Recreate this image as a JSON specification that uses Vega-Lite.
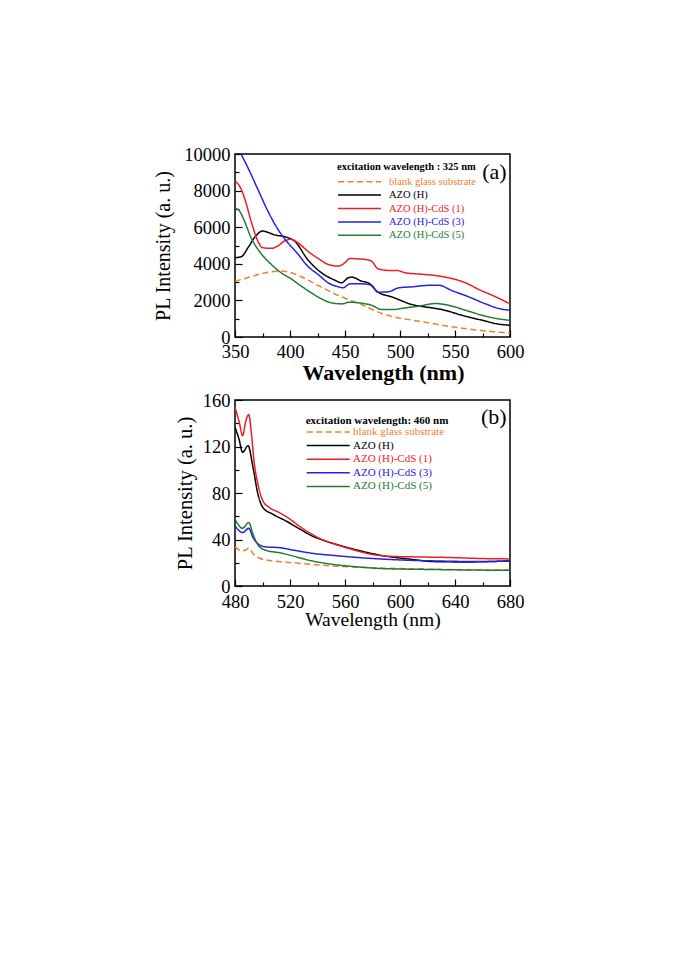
{
  "$schema": "https://vega.github.io/schema/vega-lite/v6.json",
  "background": "white",
  "padding": {"left": 153, "top": 144, "right": 0, "bottom": 0},
  "spacing": 5,
  "config": {
    "view": {"stroke": "black", "strokeWidth": 1.5},
    "font": "Liberation Serif",
    "axis": {
      "labelFont": "Liberation Serif", "titleFont": "Liberation Serif",
      "labelColor": "black", "titleColor": "black", "tickColor": "black",
      "domain": false, "grid": false, "labelFontSize": 18.5, "titleFontSize": 20,
      "titleFontWeight": "normal", "tickWidth": 1.2, "labelOverlap": false, "labelFlush": false
    },
    "legend": {
      "titleFont": "Liberation Serif", "labelFont": "Liberation Serif",
      "titleColor": "black", "titleFontWeight": "bold",
      "symbolType": "M-4.3,0H4.3", "symbolSize": 100, "symbolStrokeWidth": 1.5,
      "symbolOffset": 16.5, "padding": 0
    }
  },
  "datasets": {
    "a": [
      {"series": "blank glass substrate", "wl": 350, "val": 3050},
      {"series": "blank glass substrate", "wl": 361.6, "val": 3240},
      {"series": "blank glass substrate", "wl": 373.8, "val": 3455},
      {"series": "blank glass substrate", "wl": 383, "val": 3565},
      {"series": "blank glass substrate", "wl": 392, "val": 3600},
      {"series": "blank glass substrate", "wl": 401, "val": 3510},
      {"series": "blank glass substrate", "wl": 410.3, "val": 3290},
      {"series": "blank glass substrate", "wl": 419.4, "val": 3016},
      {"series": "blank glass substrate", "wl": 428.6, "val": 2724},
      {"series": "blank glass substrate", "wl": 440.7, "val": 2358},
      {"series": "blank glass substrate", "wl": 453, "val": 2048},
      {"series": "blank glass substrate", "wl": 465, "val": 1773},
      {"series": "blank glass substrate", "wl": 477, "val": 1444},
      {"series": "blank glass substrate", "wl": 489.5, "val": 1170},
      {"series": "blank glass substrate", "wl": 504.7, "val": 987},
      {"series": "blank glass substrate", "wl": 523, "val": 804},
      {"series": "blank glass substrate", "wl": 544, "val": 585},
      {"series": "blank glass substrate", "wl": 562.5, "val": 439},
      {"series": "blank glass substrate", "wl": 580.8, "val": 311},
      {"series": "blank glass substrate", "wl": 600, "val": 219},
      {"series": "AZO (H)", "wl": 350, "val": 4330},
      {"series": "AZO (H)", "wl": 356, "val": 4400},
      {"series": "AZO (H)", "wl": 362, "val": 4900},
      {"series": "AZO (H)", "wl": 368, "val": 5450},
      {"series": "AZO (H)", "wl": 375, "val": 5790},
      {"series": "AZO (H)", "wl": 386, "val": 5580},
      {"series": "AZO (H)", "wl": 398, "val": 5430},
      {"series": "AZO (H)", "wl": 404, "val": 5250},
      {"series": "AZO (H)", "wl": 416, "val": 4240},
      {"series": "AZO (H)", "wl": 428.6, "val": 3510},
      {"series": "AZO (H)", "wl": 440.7, "val": 3108},
      {"series": "AZO (H)", "wl": 446.8, "val": 2962},
      {"series": "AZO (H)", "wl": 453, "val": 3236},
      {"series": "AZO (H)", "wl": 456, "val": 3272},
      {"series": "AZO (H)", "wl": 465, "val": 3053},
      {"series": "AZO (H)", "wl": 471, "val": 2962},
      {"series": "AZO (H)", "wl": 480, "val": 2450},
      {"series": "AZO (H)", "wl": 492.5, "val": 2194},
      {"series": "AZO (H)", "wl": 498.6, "val": 2048},
      {"series": "AZO (H)", "wl": 510.8, "val": 1773},
      {"series": "AZO (H)", "wl": 523, "val": 1645},
      {"series": "AZO (H)", "wl": 538, "val": 1499},
      {"series": "AZO (H)", "wl": 559.5, "val": 1133},
      {"series": "AZO (H)", "wl": 574.7, "val": 914},
      {"series": "AZO (H)", "wl": 587, "val": 731},
      {"series": "AZO (H)", "wl": 600, "val": 640},
      {"series": "AZO (H)-CdS (1)", "wl": 350, "val": 8500},
      {"series": "AZO (H)-CdS (1)", "wl": 354, "val": 8263},
      {"series": "AZO (H)-CdS (1)", "wl": 358.5, "val": 7623},
      {"series": "AZO (H)-CdS (1)", "wl": 364.6, "val": 6344},
      {"series": "AZO (H)-CdS (1)", "wl": 370.7, "val": 5247},
      {"series": "AZO (H)-CdS (1)", "wl": 375, "val": 4881},
      {"series": "AZO (H)-CdS (1)", "wl": 383, "val": 4845},
      {"series": "AZO (H)-CdS (1)", "wl": 389, "val": 4973},
      {"series": "AZO (H)-CdS (1)", "wl": 395, "val": 5247},
      {"series": "AZO (H)-CdS (1)", "wl": 401, "val": 5338},
      {"series": "AZO (H)-CdS (1)", "wl": 407, "val": 5155},
      {"series": "AZO (H)-CdS (1)", "wl": 416, "val": 4698},
      {"series": "AZO (H)-CdS (1)", "wl": 425.5, "val": 4296},
      {"series": "AZO (H)-CdS (1)", "wl": 434.7, "val": 3967},
      {"series": "AZO (H)-CdS (1)", "wl": 443.8, "val": 3876},
      {"series": "AZO (H)-CdS (1)", "wl": 450, "val": 4058},
      {"series": "AZO (H)-CdS (1)", "wl": 454.4, "val": 4296},
      {"series": "AZO (H)-CdS (1)", "wl": 459, "val": 4278},
      {"series": "AZO (H)-CdS (1)", "wl": 468, "val": 4241},
      {"series": "AZO (H)-CdS (1)", "wl": 474, "val": 4150},
      {"series": "AZO (H)-CdS (1)", "wl": 480, "val": 3729},
      {"series": "AZO (H)-CdS (1)", "wl": 489.5, "val": 3638},
      {"series": "AZO (H)-CdS (1)", "wl": 497, "val": 3638},
      {"series": "AZO (H)-CdS (1)", "wl": 504.7, "val": 3510},
      {"series": "AZO (H)-CdS (1)", "wl": 513.8, "val": 3455},
      {"series": "AZO (H)-CdS (1)", "wl": 529, "val": 3382},
      {"series": "AZO (H)-CdS (1)", "wl": 544, "val": 3236},
      {"series": "AZO (H)-CdS (1)", "wl": 559.5, "val": 2962},
      {"series": "AZO (H)-CdS (1)", "wl": 571.7, "val": 2596},
      {"series": "AZO (H)-CdS (1)", "wl": 587, "val": 2194},
      {"series": "AZO (H)-CdS (1)", "wl": 600, "val": 1810},
      {"series": "AZO (H)-CdS (3)", "wl": 350, "val": 10650},
      {"series": "AZO (H)-CdS (3)", "wl": 355.5, "val": 10000},
      {"series": "AZO (H)-CdS (3)", "wl": 361.6, "val": 9269},
      {"series": "AZO (H)-CdS (3)", "wl": 370.7, "val": 8080},
      {"series": "AZO (H)-CdS (3)", "wl": 379.8, "val": 6892},
      {"series": "AZO (H)-CdS (3)", "wl": 389, "val": 5887},
      {"series": "AZO (H)-CdS (3)", "wl": 398, "val": 5155},
      {"series": "AZO (H)-CdS (3)", "wl": 407, "val": 4552},
      {"series": "AZO (H)-CdS (3)", "wl": 416, "val": 3876},
      {"series": "AZO (H)-CdS (3)", "wl": 425.5, "val": 3419},
      {"series": "AZO (H)-CdS (3)", "wl": 434.7, "val": 2962},
      {"series": "AZO (H)-CdS (3)", "wl": 443.8, "val": 2742},
      {"series": "AZO (H)-CdS (3)", "wl": 448.4, "val": 2687},
      {"series": "AZO (H)-CdS (3)", "wl": 454.4, "val": 2907},
      {"series": "AZO (H)-CdS (3)", "wl": 465, "val": 2907},
      {"series": "AZO (H)-CdS (3)", "wl": 474, "val": 2834},
      {"series": "AZO (H)-CdS (3)", "wl": 480, "val": 2450},
      {"series": "AZO (H)-CdS (3)", "wl": 489.5, "val": 2468},
      {"series": "AZO (H)-CdS (3)", "wl": 498.6, "val": 2687},
      {"series": "AZO (H)-CdS (3)", "wl": 510.8, "val": 2742},
      {"series": "AZO (H)-CdS (3)", "wl": 523, "val": 2815},
      {"series": "AZO (H)-CdS (3)", "wl": 535, "val": 2834},
      {"series": "AZO (H)-CdS (3)", "wl": 547, "val": 2541},
      {"series": "AZO (H)-CdS (3)", "wl": 562.5, "val": 2194},
      {"series": "AZO (H)-CdS (3)", "wl": 577.8, "val": 1810},
      {"series": "AZO (H)-CdS (3)", "wl": 590, "val": 1554},
      {"series": "AZO (H)-CdS (3)", "wl": 600, "val": 1463},
      {"series": "AZO (H)-CdS (5)", "wl": 350, "val": 7038},
      {"series": "AZO (H)-CdS (5)", "wl": 354, "val": 6892},
      {"series": "AZO (H)-CdS (5)", "wl": 358.5, "val": 6344},
      {"series": "AZO (H)-CdS (5)", "wl": 364.6, "val": 5430},
      {"series": "AZO (H)-CdS (5)", "wl": 373.8, "val": 4552},
      {"series": "AZO (H)-CdS (5)", "wl": 383, "val": 3967},
      {"series": "AZO (H)-CdS (5)", "wl": 392, "val": 3510},
      {"series": "AZO (H)-CdS (5)", "wl": 401, "val": 3181},
      {"series": "AZO (H)-CdS (5)", "wl": 410.3, "val": 2779},
      {"series": "AZO (H)-CdS (5)", "wl": 419.4, "val": 2413},
      {"series": "AZO (H)-CdS (5)", "wl": 428.6, "val": 2084},
      {"series": "AZO (H)-CdS (5)", "wl": 437.7, "val": 1865},
      {"series": "AZO (H)-CdS (5)", "wl": 446.8, "val": 1810},
      {"series": "AZO (H)-CdS (5)", "wl": 454.4, "val": 1901},
      {"series": "AZO (H)-CdS (5)", "wl": 465, "val": 1846},
      {"series": "AZO (H)-CdS (5)", "wl": 474, "val": 1737},
      {"series": "AZO (H)-CdS (5)", "wl": 483.4, "val": 1499},
      {"series": "AZO (H)-CdS (5)", "wl": 492.5, "val": 1499},
      {"series": "AZO (H)-CdS (5)", "wl": 504.7, "val": 1590},
      {"series": "AZO (H)-CdS (5)", "wl": 516.9, "val": 1682},
      {"series": "AZO (H)-CdS (5)", "wl": 532, "val": 1828},
      {"series": "AZO (H)-CdS (5)", "wl": 544, "val": 1737},
      {"series": "AZO (H)-CdS (5)", "wl": 559.5, "val": 1463},
      {"series": "AZO (H)-CdS (5)", "wl": 574.7, "val": 1188},
      {"series": "AZO (H)-CdS (5)", "wl": 590, "val": 987},
      {"series": "AZO (H)-CdS (5)", "wl": 600, "val": 914}
    ],
    "b": [
      {"series": "blank glass substrate", "wl": 480, "val": 33.9},
      {"series": "blank glass substrate", "wl": 484.8, "val": 30.2},
      {"series": "blank glass substrate", "wl": 487.2, "val": 30.7},
      {"series": "blank glass substrate", "wl": 490.3, "val": 32.5},
      {"series": "blank glass substrate", "wl": 493.1, "val": 27.9},
      {"series": "blank glass substrate", "wl": 497.9, "val": 23.9},
      {"series": "blank glass substrate", "wl": 507.4, "val": 21.6},
      {"series": "blank glass substrate", "wl": 521.8, "val": 20.1},
      {"series": "blank glass substrate", "wl": 540.9, "val": 18.1},
      {"series": "blank glass substrate", "wl": 564.7, "val": 16.4},
      {"series": "blank glass substrate", "wl": 593.4, "val": 15.2},
      {"series": "blank glass substrate", "wl": 624.4, "val": 14.4},
      {"series": "blank glass substrate", "wl": 660.2, "val": 13.8},
      {"series": "blank glass substrate", "wl": 680, "val": 13.8},
      {"series": "AZO (H)", "wl": 480, "val": 136.5},
      {"series": "AZO (H)", "wl": 483, "val": 126},
      {"series": "AZO (H)", "wl": 485.5, "val": 115},
      {"series": "AZO (H)", "wl": 489.5, "val": 120.7},
      {"series": "AZO (H)", "wl": 493.1, "val": 102},
      {"series": "AZO (H)", "wl": 496.7, "val": 79},
      {"series": "AZO (H)", "wl": 500.3, "val": 67.5},
      {"series": "AZO (H)", "wl": 507.4, "val": 61.8},
      {"series": "AZO (H)", "wl": 517, "val": 56},
      {"series": "AZO (H)", "wl": 526.5, "val": 49.4},
      {"series": "AZO (H)", "wl": 536, "val": 43.1},
      {"series": "AZO (H)", "wl": 545.6, "val": 38.8},
      {"series": "AZO (H)", "wl": 555.2, "val": 35.3},
      {"series": "AZO (H)", "wl": 569.5, "val": 30.7},
      {"series": "AZO (H)", "wl": 588.6, "val": 25.9},
      {"series": "AZO (H)", "wl": 607.7, "val": 23},
      {"series": "AZO (H)", "wl": 624.4, "val": 21},
      {"series": "AZO (H)", "wl": 648.3, "val": 20.7},
      {"series": "AZO (H)", "wl": 680, "val": 21.6},
      {"series": "AZO (H)-CdS (1)", "wl": 480, "val": 153.7},
      {"series": "AZO (H)-CdS (1)", "wl": 483.1, "val": 140.8},
      {"series": "AZO (H)-CdS (1)", "wl": 485.5, "val": 129.3},
      {"series": "AZO (H)-CdS (1)", "wl": 487.9, "val": 142},
      {"series": "AZO (H)-CdS (1)", "wl": 490, "val": 147.4},
      {"series": "AZO (H)-CdS (1)", "wl": 492, "val": 130.7},
      {"series": "AZO (H)-CdS (1)", "wl": 493.8, "val": 107.8},
      {"series": "AZO (H)-CdS (1)", "wl": 496.7, "val": 87.6},
      {"series": "AZO (H)-CdS (1)", "wl": 500.3, "val": 73.3},
      {"series": "AZO (H)-CdS (1)", "wl": 505, "val": 67.5},
      {"series": "AZO (H)-CdS (1)", "wl": 512.2, "val": 63.2},
      {"series": "AZO (H)-CdS (1)", "wl": 519.4, "val": 58},
      {"series": "AZO (H)-CdS (1)", "wl": 526.5, "val": 51.7},
      {"series": "AZO (H)-CdS (1)", "wl": 536, "val": 44.5},
      {"series": "AZO (H)-CdS (1)", "wl": 545.6, "val": 38.8},
      {"series": "AZO (H)-CdS (1)", "wl": 555.2, "val": 35},
      {"series": "AZO (H)-CdS (1)", "wl": 564.7, "val": 31.6},
      {"series": "AZO (H)-CdS (1)", "wl": 579, "val": 27.3},
      {"series": "AZO (H)-CdS (1)", "wl": 593.4, "val": 25.5},
      {"series": "AZO (H)-CdS (1)", "wl": 612.5, "val": 25},
      {"series": "AZO (H)-CdS (1)", "wl": 636.3, "val": 24.5},
      {"series": "AZO (H)-CdS (1)", "wl": 660.2, "val": 23.6},
      {"series": "AZO (H)-CdS (1)", "wl": 680, "val": 23.3},
      {"series": "AZO (H)-CdS (3)", "wl": 480, "val": 51.7},
      {"series": "AZO (H)-CdS (3)", "wl": 485.5, "val": 46},
      {"series": "AZO (H)-CdS (3)", "wl": 490, "val": 49.7},
      {"series": "AZO (H)-CdS (3)", "wl": 493.1, "val": 41.7},
      {"series": "AZO (H)-CdS (3)", "wl": 497.9, "val": 35.3},
      {"series": "AZO (H)-CdS (3)", "wl": 502.7, "val": 33.6},
      {"series": "AZO (H)-CdS (3)", "wl": 512.2, "val": 33},
      {"series": "AZO (H)-CdS (3)", "wl": 521.8, "val": 31},
      {"series": "AZO (H)-CdS (3)", "wl": 536, "val": 28.2},
      {"series": "AZO (H)-CdS (3)", "wl": 555.2, "val": 25.9},
      {"series": "AZO (H)-CdS (3)", "wl": 576.7, "val": 23.9},
      {"series": "AZO (H)-CdS (3)", "wl": 600.5, "val": 22.4},
      {"series": "AZO (H)-CdS (3)", "wl": 624.4, "val": 21.6},
      {"series": "AZO (H)-CdS (3)", "wl": 660.2, "val": 21},
      {"series": "AZO (H)-CdS (3)", "wl": 680, "val": 21.6},
      {"series": "AZO (H)-CdS (5)", "wl": 480, "val": 57.5},
      {"series": "AZO (H)-CdS (5)", "wl": 485.5, "val": 49.7},
      {"series": "AZO (H)-CdS (5)", "wl": 490, "val": 54.6},
      {"series": "AZO (H)-CdS (5)", "wl": 493.1, "val": 44.5},
      {"series": "AZO (H)-CdS (5)", "wl": 497.9, "val": 33.6},
      {"series": "AZO (H)-CdS (5)", "wl": 503.9, "val": 30.2},
      {"series": "AZO (H)-CdS (5)", "wl": 512.2, "val": 28.7},
      {"series": "AZO (H)-CdS (5)", "wl": 521.8, "val": 25.9},
      {"series": "AZO (H)-CdS (5)", "wl": 536, "val": 21.6},
      {"series": "AZO (H)-CdS (5)", "wl": 550.4, "val": 18.7},
      {"series": "AZO (H)-CdS (5)", "wl": 569.5, "val": 16.4},
      {"series": "AZO (H)-CdS (5)", "wl": 588.6, "val": 14.9},
      {"series": "AZO (H)-CdS (5)", "wl": 612.5, "val": 14.4},
      {"series": "AZO (H)-CdS (5)", "wl": 648.3, "val": 13.8},
      {"series": "AZO (H)-CdS (5)", "wl": 680, "val": 13.5}
    ]
  },
  "resolve": {
    "scale": {"color": "independent", "strokeDash": "independent"},
    "legend": {"color": "independent", "strokeDash": "independent"}
  },
  "vconcat": [
    {
      "width": 275,
      "height": 183,
      "resolve": {"axis": {"x": "independent", "y": "independent"}},
      "layer": [
        {
          "data": {"name": "a"},
          "mark": {"type": "line", "strokeWidth": 1.5, "clip": true, "interpolate": "monotone"},
          "encoding": {
            "x": {
              "field": "wl", "type": "quantitative",
              "scale": {"domain": [350, 600], "nice": false, "zero": false},
              "axis": {
                "orient": "bottom",
                "title": "Wavelength (nm)", "titleFontWeight": "bold", "titleFontSize": 22, "titlePadding": 2, "titleX": 148,
                "values": [350, 400, 450, 500, 550, 600],
                "tickSize": -7, "labelPadding": 12, "labelOverlap": false
              }
            },
            "y": {
              "field": "val", "type": "quantitative",
              "scale": {"domain": [0, 10000], "nice": false},
              "axis": {
                "orient": "left",
                "title": "PL Intensity (a. u.)", "titlePadding": 10, "format": "d",
                "values": [0, 2000, 4000, 6000, 8000, 10000],
                "tickSize": -7, "labelPadding": 12, "labelOverlap": false
              }
            },
            "color": {
              "field": "series", "type": "nominal",
              "scale": {
                "domain": ["blank glass substrate", "AZO (H)", "AZO (H)-CdS (1)", "AZO (H)-CdS (3)", "AZO (H)-CdS (5)"],
                "range": ["#f07f2f", "#000000", "#ee1c24", "#2222e6", "#237a33"]
              },
              "legend": {
                "orient": "none", "legendX": 102, "legendY": 7.5,
                "title": "excitation wavelength : 325 nm", "titleFontSize": 10.5, "titlePadding": 3.7,
                "labelFontSize": 10.5, "rowPadding": 1.4, "labelOffset": 23.5,
                "encode": {
                  "labels": {"update": {"fill": {"signal": "datum.value === 'blank glass substrate' ? '#f07f2f' : datum.value === 'AZO (H)' ? '#000000' : datum.value === 'AZO (H)-CdS (1)' ? '#ee1c24' : datum.value === 'AZO (H)-CdS (3)' ? '#2222e6' : '#237a33'"}}}
                }
              }
            },
            "strokeDash": {
              "field": "series", "type": "nominal",
              "scale": {
                "domain": ["blank glass substrate", "AZO (H)", "AZO (H)-CdS (1)", "AZO (H)-CdS (3)", "AZO (H)-CdS (5)"],
                "range": [[6, 3.5], [1, 0], [1, 0], [1, 0], [1, 0]]
              },
              "legend": {
                "orient": "none", "legendX": 102, "legendY": 7.5,
                "title": "excitation wavelength : 325 nm", "titleFontSize": 10.5, "titlePadding": 3.7,
                "labelFontSize": 10.5, "rowPadding": 1.4, "labelOffset": 23.5
              }
            }
          }
        },
        {
          "data": {"values": [{"wl": 597, "val": 9000, "t": "(a)"}]},
          "mark": {"type": "text", "align": "right", "baseline": "middle", "fontSize": 22, "font": "Liberation Serif", "color": "black"},
          "encoding": {
            "x": {
              "field": "wl", "type": "quantitative",
              "axis": {"orient": "bottom", "values": [375, 425, 475, 525, 575], "labels": false, "title": null, "tickSize": -4, "domain": false}
            },
            "y": {
              "field": "val", "type": "quantitative",
              "axis": {"orient": "left", "values": [1000, 3000, 5000, 7000, 9000], "labels": false, "title": null, "tickSize": -4, "domain": false}
            },
            "text": {"field": "t"}
          }
        }
      ]
    },
    {
      "width": 275,
      "height": 186,
      "resolve": {"axis": {"x": "independent", "y": "independent"}},
      "layer": [
        {
          "data": {"name": "b"},
          "mark": {"type": "line", "strokeWidth": 1.5, "clip": true, "interpolate": "monotone"},
          "encoding": {
            "x": {
              "field": "wl", "type": "quantitative",
              "scale": {"domain": [480, 680], "nice": false, "zero": false},
              "axis": {
                "orient": "bottom",
                "title": "Wavelength (nm)", "titleFontSize": 19.5, "titlePadding": 0,
                "values": [480, 520, 560, 600, 640, 680],
                "tickSize": -7, "labelPadding": 13, "labelOverlap": false
              }
            },
            "y": {
              "field": "val", "type": "quantitative",
              "scale": {"domain": [0, 160], "nice": false},
              "axis": {
                "orient": "left",
                "title": "PL Intensity (a. u.)", "titlePadding": 7, "titleFontSize": 20.5,
                "values": [0, 40, 80, 120, 160],
                "tickSize": -7, "labelPadding": 12, "labelOverlap": false
              }
            },
            "color": {
              "field": "series", "type": "nominal",
              "scale": {
                "domain": ["blank glass substrate", "AZO (H)", "AZO (H)-CdS (1)", "AZO (H)-CdS (3)", "AZO (H)-CdS (5)"],
                "range": ["#f07f2f", "#000000", "#ee1c24", "#2222e6", "#237a33"]
              },
              "legend": {
                "orient": "none", "legendX": 70.7, "legendY": 15,
                "title": "excitation wavelength: 460 nm", "titleFontSize": 11, "titlePadding": 0,
                "labelFontSize": 11, "rowPadding": 2.6, "labelOffset": 18.8,
                "encode": {
                  "labels": {"update": {"fill": {"signal": "datum.value === 'blank glass substrate' ? '#f07f2f' : datum.value === 'AZO (H)' ? '#000000' : datum.value === 'AZO (H)-CdS (1)' ? '#ee1c24' : datum.value === 'AZO (H)-CdS (3)' ? '#2222e6' : '#237a33'"}}}
                }
              }
            },
            "strokeDash": {
              "field": "series", "type": "nominal",
              "scale": {
                "domain": ["blank glass substrate", "AZO (H)", "AZO (H)-CdS (1)", "AZO (H)-CdS (3)", "AZO (H)-CdS (5)"],
                "range": [[6, 3.5], [1, 0], [1, 0], [1, 0], [1, 0]]
              },
              "legend": {
                "orient": "none", "legendX": 70.7, "legendY": 15,
                "title": "excitation wavelength: 460 nm", "titleFontSize": 11, "titlePadding": 0,
                "labelFontSize": 11, "rowPadding": 2.6, "labelOffset": 18.8
              }
            }
          }
        },
        {
          "data": {"values": [{"wl": 677.5, "val": 145, "t": "(b)"}]},
          "mark": {"type": "text", "align": "right", "baseline": "middle", "fontSize": 22, "font": "Liberation Serif", "color": "black"},
          "encoding": {
            "x": {
              "field": "wl", "type": "quantitative",
              "axis": {"orient": "bottom", "values": [500, 540, 580, 620, 660], "labels": false, "title": null, "tickSize": -4, "domain": false}
            },
            "y": {
              "field": "val", "type": "quantitative",
              "axis": {"orient": "left", "values": [20, 60, 100, 140], "labels": false, "title": null, "tickSize": -4, "domain": false}
            },
            "text": {"field": "t"}
          }
        }
      ]
    }
  ]
}
